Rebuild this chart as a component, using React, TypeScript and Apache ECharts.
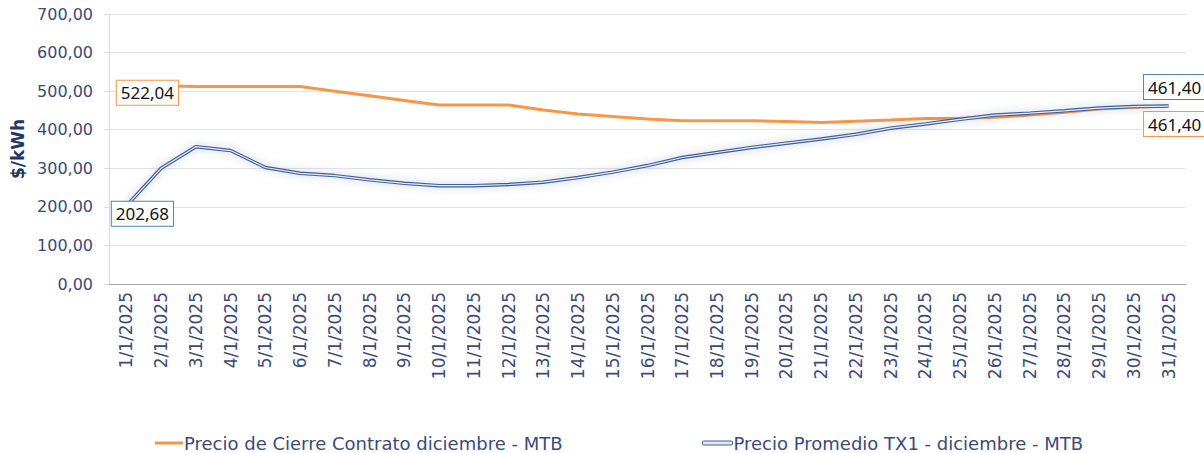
import React, { useEffect, useRef } from "react";
import * as echarts from "echarts";

const categories = Array.from({ length: 31 }, (_, i) => `${i + 1}/1/2025`);
const cierre = [
  522.04, 514, 512, 512, 512, 512, 500, 488, 476, 464, 464, 464, 451, 441, 434, 428,
  423, 423, 423, 421, 419, 422, 425, 429, 430, 432, 438, 445, 454, 458, 461.4,
];
const promedio = [
  202.68, 300, 356, 346, 302, 287, 281, 270, 261, 255, 255, 258, 264, 276, 290, 307,
  328, 341, 354, 365, 376, 388, 404, 415, 427, 438, 443, 449, 456, 460, 461.4,
];
const yTicks = [0, 100, 200, 300, 400, 500, 600, 700];

const nameCierre = "Precio de Cierre Contrato diciembre - MTB";
const namePromedio = "Precio Promedio TX1 - diciembre - MTB";

const fmt = (v: number) => v.toFixed(2).replace(".", ",");

export default function App() {
  const ref = useRef<HTMLDivElement>(null);
  useEffect(() => {
    document.body.style.margin = "0";
    if (!ref.current) return;
    const chart = echarts.init(ref.current, null, { renderer: "svg" });
    const last = categories.length - 1;
    const labelBase = {
      show: true,
      position: "inside",
      color: "#111",
      fontFamily: "Noto Sans",
      fontSize: 17,
      backgroundColor: "#fff",
      borderWidth: 1,
      padding: [4, 4, 3, 4],
      formatter: (p: any) => fmt(p.value),
    };
    const orangeData = cierre.map((v, i) => {
      if (i === 0)
        return { value: v, label: { ...labelBase, borderColor: "#F79646", offset: [21, 10] } };
      if (i === last)
        return { value: v, label: { ...labelBase, borderColor: "#F79646", offset: [6, 18] } };
      return v;
    });
    const blueData = promedio.map((v, i) => {
      if (i === 0)
        return { value: v, label: { ...labelBase, borderColor: "#4F81BD", offset: [16, 8] } };
      if (i === last)
        return { value: v, label: { ...labelBase, borderColor: "#4F81BD", offset: [6, -19] } };
      return v;
    });
    const axisFont = { fontFamily: "DejaVu Sans", color: "#3b4a78" };
    chart.setOption({
      animation: false,
      grid: { left: 109, right: 18, top: 14, bottom: 169, containLabel: false },
      legend: [
        {
          left: 150,
          top: 429,
          data: [{ name: nameCierre, icon: "rect" }],
          itemWidth: 28,
          itemHeight: 3,
          textStyle: { ...axisFont, fontSize: 18, padding: [0, 0, 0, -4] },
        },
        {
          left: 697,
          top: 429,
          data: [
            {
              name: namePromedio,
              icon: "roundRect",
              itemStyle: { color: "#e3eaf5", borderColor: "#3f5f9a", borderWidth: 1 },
            },
          ],
          itemWidth: 30,
          itemHeight: 4,
          textStyle: { ...axisFont, fontSize: 18, padding: [0, 0, 0, -4] },
        },
      ],
      xAxis: {
        type: "category",
        data: categories,
        boundaryGap: true,
        axisLine: { show: true, lineStyle: { color: "#a6a6a6", width: 1 } },
        axisTick: { show: false },
        axisLabel: { ...axisFont, fontSize: 17, rotate: 90, interval: 0, margin: 8 },
      },
      yAxis: {
        type: "value",
        min: 0,
        max: 700,
        interval: 100,
        name: "$/kWh",
        nameLocation: "middle",
        nameRotate: 90,
        nameGap: 77,
        nameTextStyle: { fontFamily: "DejaVu Sans", fontWeight: "bold", fontSize: 17, color: "#1f3864" },
        axisLine: { show: true, lineStyle: { color: "#d9d9d9" } },
        axisTick: { show: true, length: 5, lineStyle: { color: "#d9d9d9" } },
        splitLine: { lineStyle: { color: "#e3e3e3" } },
        axisLabel: {
          ...axisFont,
          fontSize: 16,
          margin: 16,
          formatter: (v: number) => (yTicks.includes(v) ? fmt(v) : ""),
        },
      },
      series: [
        {
          name: nameCierre,
          type: "line",
          data: orangeData,
          symbol: "circle",
          symbolSize: 0.1,
          color: "#F79646",
          lineStyle: { color: "#F79646", width: 3 },
          label: { show: false },
          z: 3,
        },
        {
          name: namePromedio,
          type: "line",
          data: promedio,
          symbol: "none",
          color: "#3f5f9a",
          lineStyle: {
            color: "#3f5f9a",
            width: 3.5,
            shadowBlur: 8,
            shadowColor: "rgba(70,100,160,0.35)",
          },
          z: 4,
        },
        {
          name: "inner",
          type: "line",
          data: blueData,
          symbol: "circle",
          symbolSize: 0.1,
          color: "#e6edf7",
          lineStyle: { color: "#e6edf7", width: 1.2 },
          label: { show: false },
          z: 5,
        },
      ],
    });
    return () => chart.dispose();
  }, []);
  return <div ref={ref} style={{ width: 1204, height: 453 }} />;
}
